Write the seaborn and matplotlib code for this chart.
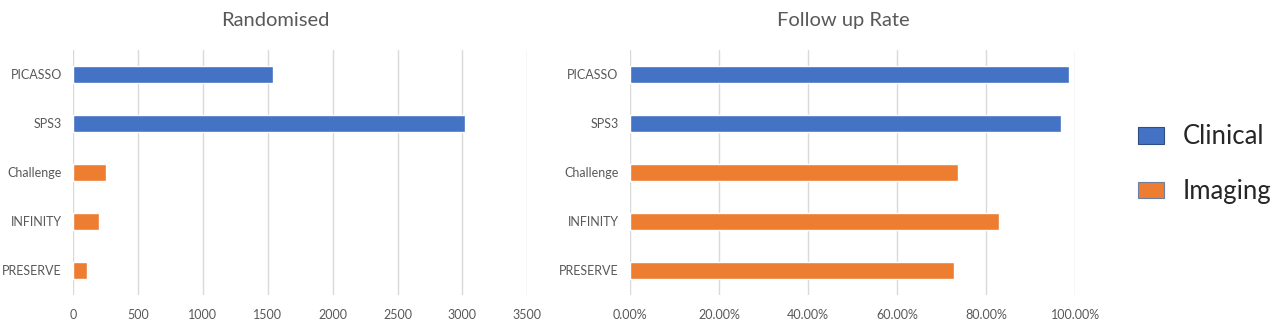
import pandas as pd
import seaborn as sns
import matplotlib.pyplot as plt
from matplotlib.ticker import PercentFormatter
from matplotlib.patches import Patch

# --- data ---
trials = ["PICASSO", "SPS3", "Challenge", "INFINITY", "PRESERVE"]
groups = ["Clinical", "Clinical", "Imaging", "Imaging", "Imaging"]
randomised = [1540, 3022, 255, 203, 107]
follow_up = [0.986, 0.969, 0.738, 0.830, 0.728]

df = pd.DataFrame({"trial": trials, "group": groups,
                   "randomised": randomised, "follow_up": follow_up})

palette = {"Clinical": "#4472C4", "Imaging": "#ED7D31"}
grey = "#595959"

sns.set_style("white")
plt.rcParams["font.family"] = ["Lato", "DejaVu Sans"]

fig = plt.figure(figsize=(12.8, 3.22), dpi=100)
ax1 = fig.add_axes([0.057, 0.084, 0.355, 0.761])
ax2 = fig.add_axes([0.492, 0.084, 0.348, 0.761])

for ax, col, title, tx in [(ax1, "randomised", "Randomised", 0.446),
                           (ax2, "follow_up", "Follow up Rate", 0.48)]:
    sns.barplot(data=df, y="trial", x=col, hue="group", palette=palette,
                dodge=False, width=0.35, orient="h", ax=ax, legend=False,
                saturation=1)
    ax.set_title(title, fontsize=14.5, color=grey, x=tx, pad=17)
    ax.set_xlabel("")
    ax.set_ylabel("")
    ax.grid(axis="x", color="#D9D9D9", linewidth=1)
    ax.set_axisbelow(True)
    for s in ax.spines.values():
        s.set_visible(False)
    ax.tick_params(length=0, labelsize=9, labelcolor=grey)
    ax.tick_params(axis="y", pad=8)
    ax.tick_params(axis="x", pad=10)
    ax.set_ylim(4.5, -0.5)

ax1.set_xlim(0, 3500)
ax1.set_xticks(range(0, 3501, 500))
ax2.set_xlim(0, 1.0)
ax2.set_xticks([0, 0.2, 0.4, 0.6, 0.8, 1.0])
ax2.xaxis.set_major_formatter(PercentFormatter(1.0, decimals=2))

handles = [Patch(facecolor=palette[g], edgecolor="#2F4F7F" if g == "Clinical" else "#6F7F9F",
                 linewidth=0.8, label=g) for g in ["Clinical", "Imaging"]]
fig.legend(handles=handles, loc="center left", bbox_to_anchor=(0.871, 0.49),
           frameon=False, fontsize=18.5, handlelength=1.0, handleheight=0.6,
           handletextpad=0.75, labelspacing=1.15)

fig.savefig("out.png", dpi=100)
